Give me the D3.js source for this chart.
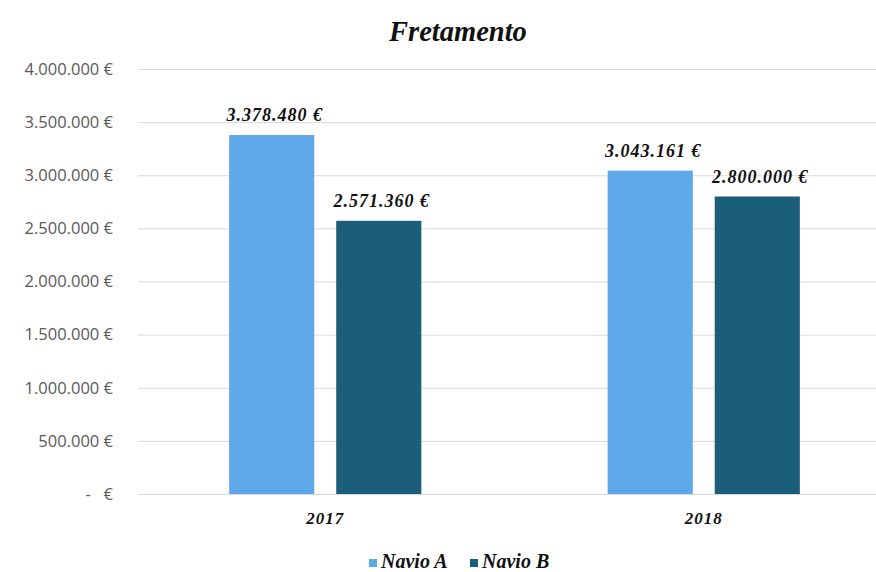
<!DOCTYPE html>
<html>
<head>
<meta charset="utf-8">
<script src="https://cdn.jsdelivr.net/npm/d3@7"></script>
<style>
  html, body { margin: 0; padding: 0; background: #ffffff; }
  svg { display: block; }
</style>
</head>
<body>
<svg id="chart" width="876" height="572"></svg>
<script>
const title = "Fretamento";
const years = ["2017", "2018"];
const seriesNames = ["Navio A", "Navio B"];
const navioA = [3378480, 3043161];
const navioB = [2571360, 2800000];
const valueLabelsA = ["3.378.480 €", "3.043.161 €"];
const valueLabelsB = ["2.571.360 €", "2.800.000 €"];
const yTicks = [0, 500000, 1000000, 1500000, 2000000, 2500000, 3000000, 3500000, 4000000];
const yTickLabels = ["-   €", "500.000 €", "1.000.000 €", "1.500.000 €", "2.000.000 €", "2.500.000 €", "3.000.000 €", "3.500.000 €", "4.000.000 €"];
const colors = ["#5ea7e8", "#1b5e79"];

const svg = d3.select("#chart");
const serif = "'Liberation Serif', 'DejaVu Serif', serif";
const sans = "'Open Sans', 'Liberation Sans', sans-serif";

const y = d3.scaleLinear().domain([0, 4000000]).range([494, 69]);
const x0 = d3.scaleBand().domain(years).range([136, 893]).paddingInner(0).paddingOuter(0);
const x1 = d3.scaleBand().domain(seriesNames).range([0, x0.bandwidth()]).paddingInner(0.205).paddingOuter(0.87);

// gridlines + y labels
const yAxis = d3.axisLeft(y).tickValues(yTicks).tickSize(-(876 - 138)).tickFormat((d, i) => yTickLabels[i]).tickPadding(25);
const gy = svg.append("g").attr("transform", "translate(138,0)").call(yAxis);
gy.select(".domain").remove();
gy.selectAll(".tick line").attr("stroke", "#d9d9d9").attr("stroke-width", 1);
gy.selectAll(".tick text")
  .attr("font-family", sans).attr("font-size", 16.5).attr("fill", "#5a5a5a")
  .style("white-space", "pre");

// bars
const data = years.map((yr, i) => ({ year: yr, vals: [navioA[i], navioB[i]], labels: [valueLabelsA[i], valueLabelsB[i]] }));
const groups = svg.append("g").selectAll("g").data(data).join("g")
  .attr("transform", d => `translate(${x0(d.year)},0)`);
groups.selectAll("rect").data(d => d.vals.map((v, j) => ({ v, s: seriesNames[j], j })))
  .join("rect")
  .attr("x", d => x1(d.s)).attr("width", x1.bandwidth())
  .attr("y", d => y(d.v)).attr("height", d => y(0) - y(d.v))
  .attr("fill", d => colors[d.j]);
groups.selectAll("text.val").data(d => d.vals.map((v, j) => ({ v, s: seriesNames[j], lab: d.labels[j] })))
  .join("text").attr("class", "val")
  .attr("x", d => x1(d.s) + x1.bandwidth() / 2 + 3)
  .attr("y", d => y(d.v) - 14)
  .attr("text-anchor", "middle")
  .attr("font-family", serif).attr("font-weight", "bold").attr("font-style", "italic")
  .attr("font-size", 18).attr("letter-spacing", 1).attr("fill", "#111")
  .text(d => d.lab);

// x axis labels
const xAxis = d3.axisBottom(x0).tickSize(0).tickPadding(18);
const gx = svg.append("g").attr("transform", `translate(0,${y(0)})`).call(xAxis);
gx.select(".domain").remove();
gx.selectAll(".tick text")
  .attr("font-family", serif).attr("font-weight", "bold").attr("font-style", "italic")
  .attr("font-size", 17).attr("letter-spacing", 1).attr("fill", "#111");

// title
svg.append("text").attr("x", 458).attr("y", 41).attr("text-anchor", "middle")
  .attr("font-family", serif).attr("font-weight", "bold").attr("font-style", "italic")
  .attr("font-size", 28.5).attr("fill", "#111").text(title);

// legend
const legendItems = [{ name: seriesNames[0], x: 369 }, { name: seriesNames[1], x: 470 }];
const lg = svg.append("g").selectAll("g").data(legendItems).join("g")
  .attr("transform", d => `translate(${d.x},0)`);
lg.append("rect").attr("x", 0).attr("y", 559).attr("width", 8).attr("height", 8)
  .attr("fill", (d, i) => colors[i]);
lg.append("text").attr("x", 12).attr("y", 568)
  .attr("font-family", serif).attr("font-weight", "bold").attr("font-style", "italic")
  .attr("font-size", 20).attr("fill", "#111").text(d => d.name);
</script>
</body>
</html>
